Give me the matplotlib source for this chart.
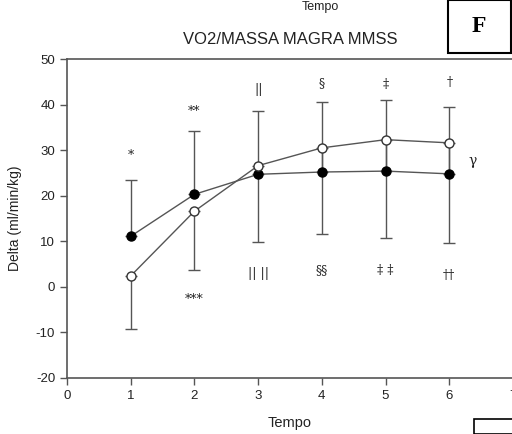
import matplotlib
matplotlib.use('Agg')
import matplotlib.pyplot as plt
from matplotlib.patches import Rectangle

# data
tempo = [1, 2, 3, 4, 5, 6]
filled_vals = [11.1, 20.3, 24.7, 25.2, 25.4, 24.8]
filled_sd_up = [12.4, 14.0, 13.8, 15.3, 15.6, 14.6]
open_vals = [2.4, 16.6, 26.6, 30.5, 32.3, 31.6]
open_sd_down = [11.7, 13.0, 16.8, 19.0, 21.6, 21.9]

upper_marks = ['*', '**', '||', '\u00a7', '\u2021', '\u2020']
upper_y = [28.8, 38.5, 43.4, 44.5, 44.5, 44.8]
lower_marks = ['***', '|| ||', '\u00a7\u00a7', '\u2021 \u2021', '\u2020\u2020']
lower_x = [2, 3, 4, 5, 6]
lower_y = [-2.8, 2.9, 3.5, 3.5, 2.5]

LINE = '#555555'
TXT = '#222222'

plt.rcParams['font.family'] = ['Liberation Sans', 'DejaVu Sans']
plt.rcParams['axes.unicode_minus'] = False

fig = plt.figure(figsize=(5.12, 4.34), dpi=100)
ax = fig.add_axes([67 / 512, 1 - 378 / 434, 446 / 512, (378 - 59) / 434])

ax.errorbar(tempo, open_vals, yerr=[open_sd_down, [0] * 6], fmt='none',
            ecolor=LINE, elinewidth=1.0, capsize=4, capthick=1.0)
ax.errorbar(tempo, filled_vals, yerr=[[0] * 6, filled_sd_up], fmt='none',
            ecolor=LINE, elinewidth=1.0, capsize=4, capthick=1.0)
ax.plot(tempo, filled_vals, color=LINE, lw=1.0, marker='o', ms=6.5,
        mfc='black', mec='black', zorder=3)
ax.plot(tempo, open_vals, color=LINE, lw=1.0, marker='o', ms=6.5,
        mfc='white', mec='#333333', mew=1.0, zorder=4)

for x, lab, y in zip(tempo, upper_marks, upper_y):
    ax.text(x, y, lab, ha='center', va='center', fontsize=9, color=TXT,
            family=['DejaVu Serif'])
for x, lab, y in zip(lower_x, lower_marks, lower_y):
    ax.text(x, y, lab, ha='center', va='center', fontsize=9, color=TXT,
            family=['DejaVu Serif'])
ax.text(6.36, 27.7, '\u03b3', ha='center', va='center', fontsize=10,
        color=TXT, family=['DejaVu Serif'])

ax.set_xlim(0, 7)
ax.set_ylim(-20, 50)
ax.set_xticks(range(0, 8))
ax.set_yticks(range(-20, 51, 10))
ax.tick_params(direction='out', length=5, width=1, colors=LINE,
               labelcolor=TXT, labelsize=9.5)
for s in ax.spines.values():
    s.set_color(LINE)
    s.set_linewidth(1.2)
ax.spines['right'].set_visible(False)

ax.set_xlabel('Tempo', fontsize=10.5, color=TXT, labelpad=10)
ax.set_ylabel('Delta (ml/min/kg)', fontsize=10, color=TXT, labelpad=10)

fig.text(290 / 512, 1 - 40 / 434, 'VO2/MASSA MAGRA MMSS', ha='center',
         va='center', fontsize=12, color=TXT)
fig.text(320 / 512, 1 - 7 / 434, 'Tempo', ha='center', va='center',
         fontsize=9, color=TXT)

# panel letter box, and the partial box of the next panel
fig.patches.append(Rectangle((448 / 512, 1 - 53 / 434), 63 / 512, 53 / 434,
                             transform=fig.transFigure, fill=False,
                             ec='black', lw=1.5))
fig.text(479 / 512, 1 - 27 / 434, 'F', ha='center', va='center',
         fontsize=17, fontweight='bold', family=['Liberation Serif'])
fig.patches.append(Rectangle((474 / 512, 0), 40 / 512, 15 / 434,
                             transform=fig.transFigure, fill=False,
                             ec='black', lw=1.2))

fig.savefig('out.png', dpi=100, facecolor='white')
